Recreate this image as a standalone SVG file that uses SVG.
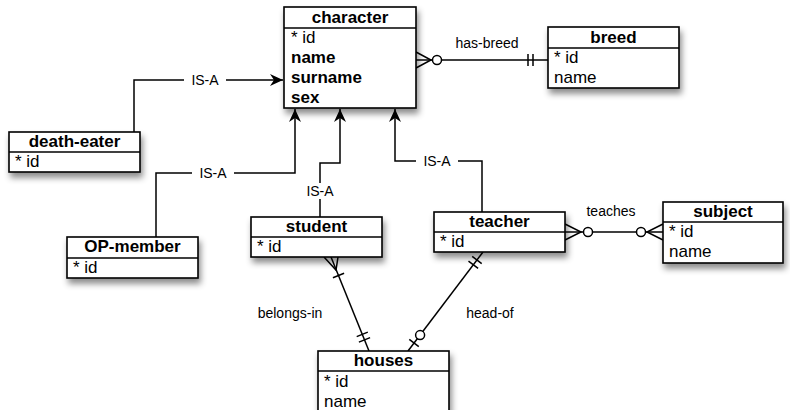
<svg xmlns="http://www.w3.org/2000/svg" width="790" height="410" viewBox="0 0 790 410">
<defs>
<filter id="sh" x="-20%" y="-20%" width="150%" height="160%">
<feDropShadow dx="2" dy="5" stdDeviation="3" flood-color="#000" flood-opacity="0.45"/>
</filter>
<marker id="arr" markerWidth="14" markerHeight="12" refX="13" refY="6" orient="auto" markerUnits="userSpaceOnUse">
<path d="M0,0 L13,6 L0,12 L4,6 Z" fill="#000"/>
</marker>
<style>
.box{fill:#fff;stroke:#000;stroke-width:1.6}
.sep{stroke:#000;stroke-width:1.6}
.h{font-family:"Liberation Sans",Arial,sans-serif;font-size:17px;font-weight:bold;text-anchor:middle;fill:#000}
.r{font-family:"Liberation Sans",Arial,sans-serif;font-size:17px;fill:#000}
.b{font-weight:bold}
.lbl{font-family:"Liberation Sans",Arial,sans-serif;font-size:14px;fill:#000;text-anchor:middle}
.ln{fill:none;stroke:#000;stroke-width:1.5}
.circ{fill:#fff;stroke:#000;stroke-width:1.5}
.bg{fill:#fff}
</style>
</defs>

<g id="connectors">
<!-- IS-A death-eater -->
<path class="ln" d="M134,132 V80 H283" marker-end="url(#arr)"/>
<rect class="bg" x="184" y="72" width="42" height="16"/>
<text class="lbl" x="205" y="85">IS-A</text>
<!-- IS-A OP-member -->
<path class="ln" d="M156,237 V173 H295 V109" marker-end="url(#arr)"/>
<rect class="bg" x="192" y="165" width="42" height="16"/>
<text class="lbl" x="213" y="178">IS-A</text>
<!-- IS-A student -->
<path class="ln" d="M320,217 V163 H340 V109" marker-end="url(#arr)"/>
<rect class="bg" x="302" y="183" width="36" height="16"/>
<text class="lbl" x="320" y="196">IS-A</text>
<!-- IS-A teacher -->
<path class="ln" d="M482,212 V161 H395 V109" marker-end="url(#arr)"/>
<rect class="bg" x="416" y="153" width="42" height="16"/>
<text class="lbl" x="437" y="166">IS-A</text>

<!-- has-breed -->
<path class="ln" d="M416,60 H548"/>
<path class="ln" d="M416,52 L431,60 L416,68"/>
<circle class="circ" cx="437" cy="60" r="4.5"/>
<path class="ln" d="M528,54 V66 M533,54 V66"/>
<text class="lbl" x="487" y="48">has-breed</text>

<!-- teaches -->
<path class="ln" d="M565,232 H663"/>
<path class="ln" d="M565,224 L581,232 L565,240"/>
<circle class="circ" cx="588" cy="232" r="4.5"/>
<path class="ln" d="M663,224 L647,232 L663,240"/>
<circle class="circ" cx="641" cy="232" r="4.5"/>
<text class="lbl" x="611" y="216">teaches</text>

<!-- belongs-in -->
<path class="ln" d="M331,257 L369,351"/>
<path class="ln" d="M324,257 L336,270 L338,257"/>
<path class="ln" d="M332.9,277.7 L344.1,273.2"/>
<path class="ln" d="M358.9,342.1 L370.1,337.6 M356.7,336.6 L367.8,332.1"/>
<text class="lbl" x="290" y="318">belongs-in</text>

<!-- head-of -->
<path class="ln" d="M483,252 L408,351"/>
<path class="ln" d="M472.2,256.3 L481.7,263.6 M468.5,261.1 L478.1,268.4"/>
<circle class="circ" cx="420.1" cy="335.1" r="4.5"/>
<path class="ln" d="M409.3,339.4 L418.8,346.7"/>
<text class="lbl" x="490" y="318">head-of</text>
</g>

<g id="character">
<rect class="box" x="284" y="7" width="132" height="101" filter="url(#sh)"/>
<line class="sep" x1="284" y1="28" x2="416" y2="28"/>
<text class="h" x="350" y="23">character</text>
<text class="r" x="291" y="43">* id</text>
<text class="r b" x="291" y="63">name</text>
<text class="r b" x="291" y="83">surname</text>
<text class="r b" x="291" y="103">sex</text>
</g>

<g id="breed">
<rect class="box" x="548" y="27" width="131" height="61" filter="url(#sh)"/>
<line class="sep" x1="548" y1="48" x2="679" y2="48"/>
<text class="h" x="613.5" y="43">breed</text>
<text class="r" x="554" y="63">* id</text>
<text class="r" x="554" y="83">name</text>
</g>

<g id="death-eater">
<rect class="box" x="9" y="132" width="131" height="40" filter="url(#sh)"/>
<line class="sep" x1="9" y1="152" x2="140" y2="152"/>
<text class="h" x="74.5" y="147">death-eater</text>
<text class="r" x="15" y="167">* id</text>
</g>

<g id="OP-member">
<rect class="box" x="67" y="237" width="131" height="41" filter="url(#sh)"/>
<line class="sep" x1="67" y1="258" x2="198" y2="258"/>
<text class="h" x="132.5" y="252">OP-member</text>
<text class="r" x="73" y="273">* id</text>
</g>

<g id="student">
<rect class="box" x="251" y="217" width="131" height="40" filter="url(#sh)"/>
<line class="sep" x1="251" y1="237" x2="382" y2="237"/>
<text class="h" x="316.5" y="232">student</text>
<text class="r" x="257" y="252">* id</text>
</g>

<g id="teacher">
<rect class="box" x="434" y="212" width="131" height="40" filter="url(#sh)"/>
<line class="sep" x1="434" y1="232" x2="565" y2="232"/>
<text class="h" x="499.5" y="227">teacher</text>
<text class="r" x="440" y="247">* id</text>
</g>

<g id="subject">
<rect class="box" x="663" y="202" width="120" height="61" filter="url(#sh)"/>
<line class="sep" x1="663" y1="222" x2="783" y2="222"/>
<text class="h" x="723" y="217">subject</text>
<text class="r" x="669" y="237">* id</text>
<text class="r" x="669" y="257">name</text>
</g>

<g id="houses">
<rect class="box" x="318" y="351" width="131" height="70" filter="url(#sh)"/>
<line class="sep" x1="318" y1="371" x2="449" y2="371"/>
<text class="h" x="383.5" y="366">houses</text>
<text class="r" x="324" y="387">* id</text>
<text class="r" x="324" y="407">name</text>
</g>
</svg>
